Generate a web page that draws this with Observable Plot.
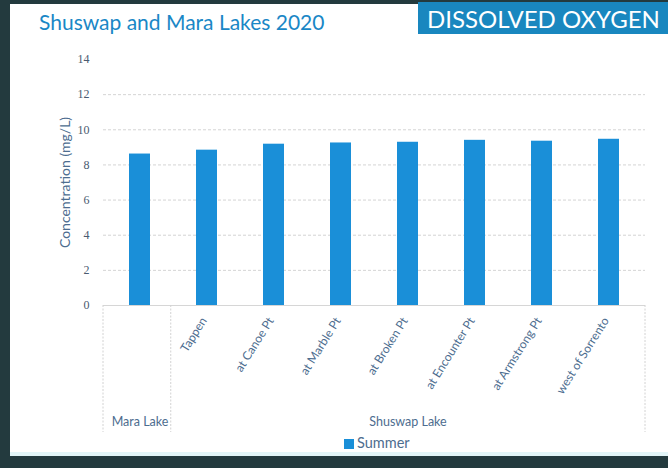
<!DOCTYPE html>
<html><head><meta charset="utf-8">
<script src="https://cdn.jsdelivr.net/npm/d3@7"></script>
<script src="https://cdn.jsdelivr.net/npm/@observablehq/plot@0.6"></script>
<style>
html,body{margin:0;padding:0;}
body{width:668px;height:468px;background:#233a3e;position:relative;overflow:hidden;font-family:Lato,"Open Sans",sans-serif;}
#panel{position:absolute;left:10px;top:4px;width:658px;height:449px;background:#fff;}
#strip{position:absolute;left:10px;top:452px;width:658px;height:4px;background:#e2f5f8;}
#title{position:absolute;left:39px;top:9px;font-size:21px;line-height:26px;color:#1a87c6;white-space:nowrap;}
#badge{position:absolute;left:418px;top:2px;width:250px;height:32px;background:#1987bf;color:#fff;font-size:24px;line-height:33px;padding-left:9px;box-sizing:border-box;white-space:nowrap;}
#chart{position:absolute;left:0;top:0;}
#legend{position:absolute;top:434px;left:344px;font-size:14.5px;color:#4d6d8f;line-height:18px;white-space:nowrap;}
#legend span{display:inline-block;width:10px;height:10px;background:#1a8fd8;margin-right:3px;vertical-align:-1px;}
</style>
</head><body>
<div id="panel"></div>
<div id="strip"></div>
<div id="title">Shuswap and Mara Lakes 2020</div>
<div id="badge">DISSOLVED OXYGEN</div>
<div id="chart"></div>
<div id="legend"><span></span>Summer</div>
<script>
const stations = ["Mara Lake","Tappen","at Canoe Pt","at Marble Pt","at Broken Pt","at Encounter Pt","at Armstrong Pt","west of Sorrento"];
const stationLakes = ["Mara Lake","Shuswap Lake","Shuswap Lake","Shuswap Lake","Shuswap Lake","Shuswap Lake","Shuswap Lake","Shuswap Lake"];
const summerDO = [8.62,8.84,9.18,9.25,9.29,9.40,9.35,9.46];
const yTicks = [0,2,4,6,8,10,12,14];
const lakeNames = ["Mara Lake","Shuswap Lake"];
const yLabel = "Concentration (mg/L)";

const data = stations.map((s,i)=>({station:s, lake:stationLakes[i], value:summerDO[i]}));
const groups = lakeNames.map(name=>{
  const members = stations.filter((s,i)=>stationLakes[i]===name);
  return {name, first: members[0], mid: members[Math.floor((members.length-1)/2)]};
});
const tickText = new Map(stations.map((s,i)=>[s, s===stationLakes[i] ? "" : s]));
const textColor = "#4d6d8f";
const barColor = "#1a8fd8";

function dividers(index, scales, values, dims){
  const g = d3.create("svg:g");
  const n = stations.length;
  const step = (dims.width - dims.marginLeft - dims.marginRight)/n;
  const y0 = scales.y(0);
  const xs = groups.map(gr=>dims.marginLeft + stations.indexOf(gr.first)*step);
  xs.push(dims.width - dims.marginRight);
  for (const x of xs){
    g.append("line").attr("x1",x).attr("x2",x).attr("y1",y0).attr("y2",y0+127)
      .attr("stroke","#d2d2d2").attr("stroke-dasharray","2,1.5");
  }
  return g.node();
}

const chart = Plot.plot({
  width: 668,
  height: 452,
  marginLeft: 103,
  marginRight: 23,
  marginTop: 59,
  marginBottom: 147,
  style:{background:"transparent", fontFamily:"Lato, 'Open Sans', sans-serif"},
  x:{domain: stations, paddingInner: 0.69, paddingOuter: 0.345},
  y:{domain:[0,14]},
  marks:[
    Plot.ruleY(yTicks.filter(v=>v>0 && v<14), {stroke:"#d4d4d4", strokeDasharray:"3,2"}),
    Plot.ruleY([0], {stroke:"#d6d6d6"}),
    Plot.barY(data, {x:"station", y:"value", fill:barColor}),
    Plot.axisY({ticks: yTicks, tickSize:0, tickPadding:14, label:null, fontSize:12, fill:"#4a5a70", fontFamily:"'Liberation Serif', serif"}),
    Plot.axisX({tickSize:0, tickPadding:13, dx:-3, tickRotate:-58, label:null, fontSize:12, fill:textColor, tickFormat: d=>tickText.get(d)}),
    Plot.text([yLabel], {frameAnchor:"left", textAnchor:"middle", rotate:-90, dx:-38, fontSize:14, fill:textColor}),
    Plot.text(groups, {x:"mid", y:()=>0, dy:116, text:"name", fontSize:12.5, fill:textColor}),
    dividers
  ]
});
document.getElementById("chart").appendChild(chart);
</script>
</body></html>
